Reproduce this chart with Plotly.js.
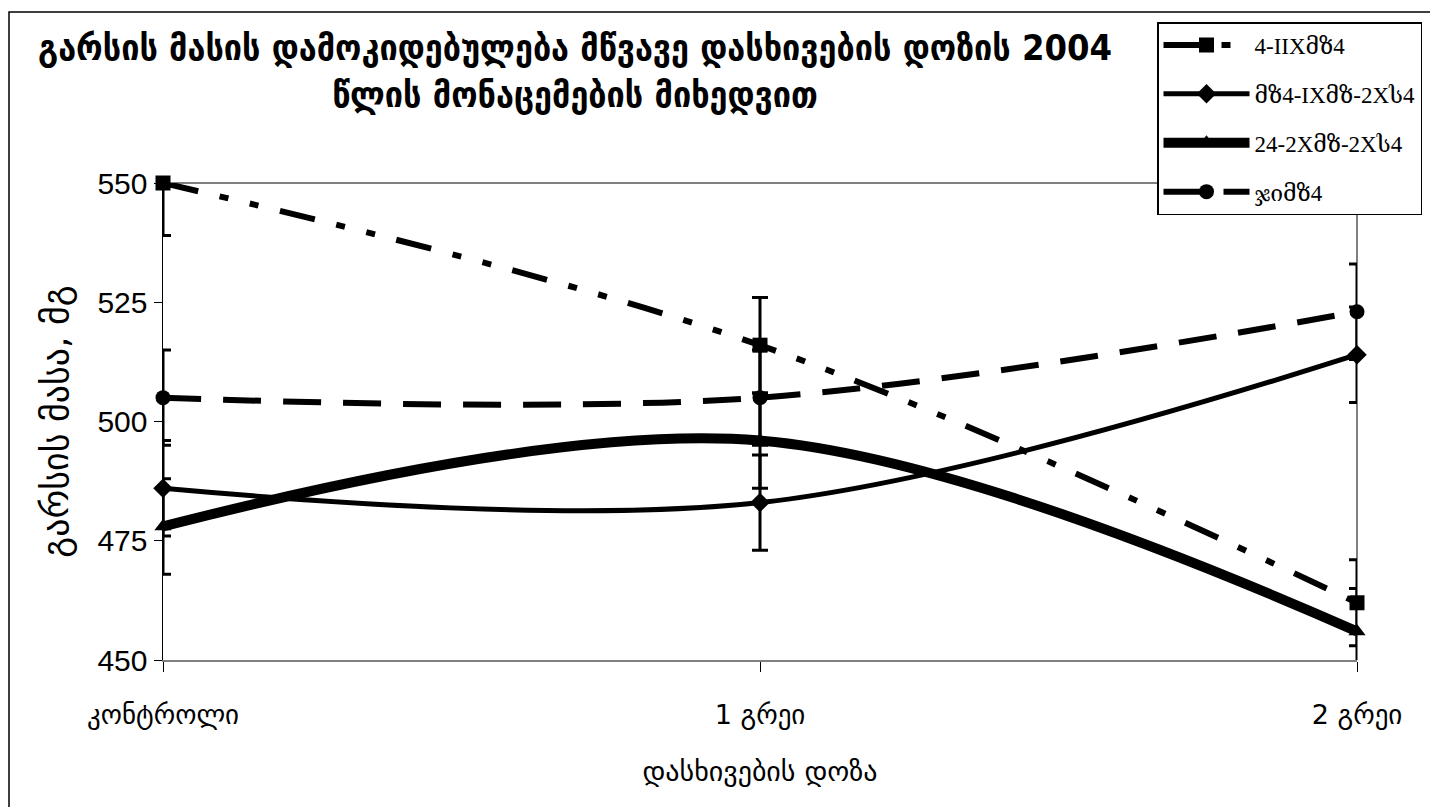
<!DOCTYPE html>
<html>
<head>
<meta charset="utf-8">
<script src="https://cdn.plot.ly/plotly-3.0.1.min.js"></script>
<style>html,body{margin:0;padding:0;background:#fff;}#chart{width:1430px;height:807px;}</style>
</head>
<body>
<div id="chart"></div>
<script>
// ---- data ----
const categories = ["კონტროლი", "1 გრეი", "2 გრეი"];
const seriesNames = ["4-IIXმზ4", "მზ4-IXმზ-2Xს4", "24-2Xმზ-2Xს4", "ჯიმზ4"];
const s1Values = [550, 516, 462];
const s1Errors = [11, 10, 9];
const s2Values = [486, 483, 514];
const s2Errors = [10, 10, 10];
const s3Values = [478, 496, 456];
const s3Errors = [10, 10, 9];
const s4Values = [505, 505, 523];
const s4Errors = [10, 10, 10];
const yTicks = [450, 475, 500, 525, 550];

const titleText = "გარსის მასის დამოკიდებულება მწვავე დასხივების დოზის 2004<br>წლის მონაცემების მიხედვით";
const yTitle = "გარსის მასა, მგ";
const xTitle = "დასხივების დოზა";

// ---- styles ----
const styles = [
  {sym: "square", w: 6, dash: "36px,22px,9px,22px,9px,22px"},
  {sym: "diamond", w: 5, dash: "solid"},
  {sym: "triangle-up", w: 10, dash: "solid"},
  {sym: "circle", w: 6, dash: "38px,22px"}
];
const vals = [s1Values, s2Values, s3Values, s4Values];
const errs = [s1Errors, s2Errors, s3Errors, s4Errors];

const traces = vals.map((v, i) => ({
  type: "scatter",
  mode: "lines+markers",
  x: categories,
  y: v,
  name: seriesNames[i],
  legendgroup: "g" + i,
  cliponaxis: false,
  line: {color: "#000", width: styles[i].w, dash: styles[i].dash, shape: "spline", smoothing: 1},
  marker: {symbol: styles[i].sym, size: 15, color: "#000"},
  error_y: {type: "data", array: errs[i], visible: true, color: "#000", thickness: 3, width: 8}
}));

const L = 163, R = 1357, T = 183, B = 660;
const px = x => (x - L) / (R - L);
const py = y => (B - y) / (B - T);

const layout = {
  width: 1430, height: 807,
  margin: {l: L, r: 1430 - R, t: T, b: 807 - B, autoexpand: false},
  paper_bgcolor: "#fff", plot_bgcolor: "#fff",
  showlegend: true,
  annotations: [{
    text: titleText, showarrow: false,
    xref: "paper", yref: "paper", x: px(575), y: py(71),
    xanchor: "center", yanchor: "middle", align: "center",
    font: {family: "DejaVu Sans Condensed, DejaVu Sans", size: 36, color: "#000", weight: "bold"}
  }],
  xaxis: {
    type: "category", range: [0, 2],
    showgrid: false, zeroline: false,
    showline: true, linecolor: "#808080", linewidth: 2,
    ticks: "outside", ticklen: 10, tickcolor: "#000", tickwidth: 1,
    ticklabelstandoff: 20,
    tickfont: {family: "DejaVu Sans", size: 27, color: "#000"},
    title: {text: xTitle, font: {family: "DejaVu Sans", size: 28, color: "#000"}, standoff: 32}
  },
  yaxis: {
    range: [450, 550], tickvals: yTicks,
    showgrid: false, zeroline: false,
    showline: true, linecolor: "#000", linewidth: 1.5,
    ticks: "outside", ticklen: 8, tickcolor: "#000", tickwidth: 1,
    tickfont: {family: "Liberation Sans, Arial", size: 30, color: "#000"},
    title: {text: yTitle, font: {family: "DejaVu Sans, Noto Sans", size: 36, color: "#000"}, standoff: 18}
  },
  legend: {
    x: px(1157), y: py(22), xref: "paper", yref: "paper",
    xanchor: "left", yanchor: "top",
    bgcolor: "#fff", bordercolor: "#000", borderwidth: 1.5,
    font: {family: "Liberation Serif, DejaVu Serif", size: 23, color: "#000"},
    itemwidth: 86, tracegroupgap: 16, traceorder: "grouped"
  },
  shapes: [
    {type: "line", xref: "paper", yref: "paper", x0: 0, x1: 1, y0: 1, y1: 1, line: {color: "#808080", width: 2}, layer: "below"},
    {type: "line", xref: "paper", yref: "paper", x0: 1, x1: 1, y0: 0, y1: 1, line: {color: "#808080", width: 2}, layer: "below"},
    {type: "rect", xref: "paper", yref: "paper", x0: px(9), x1: px(1434), y0: py(12), y1: py(810), line: {color: "#000", width: 1.5}, fillcolor: "rgba(0,0,0,0)"}
  ]
};

Plotly.newPlot("chart", traces, layout, {displayModeBar: false, staticPlot: true});
</script>
</body>
</html>
